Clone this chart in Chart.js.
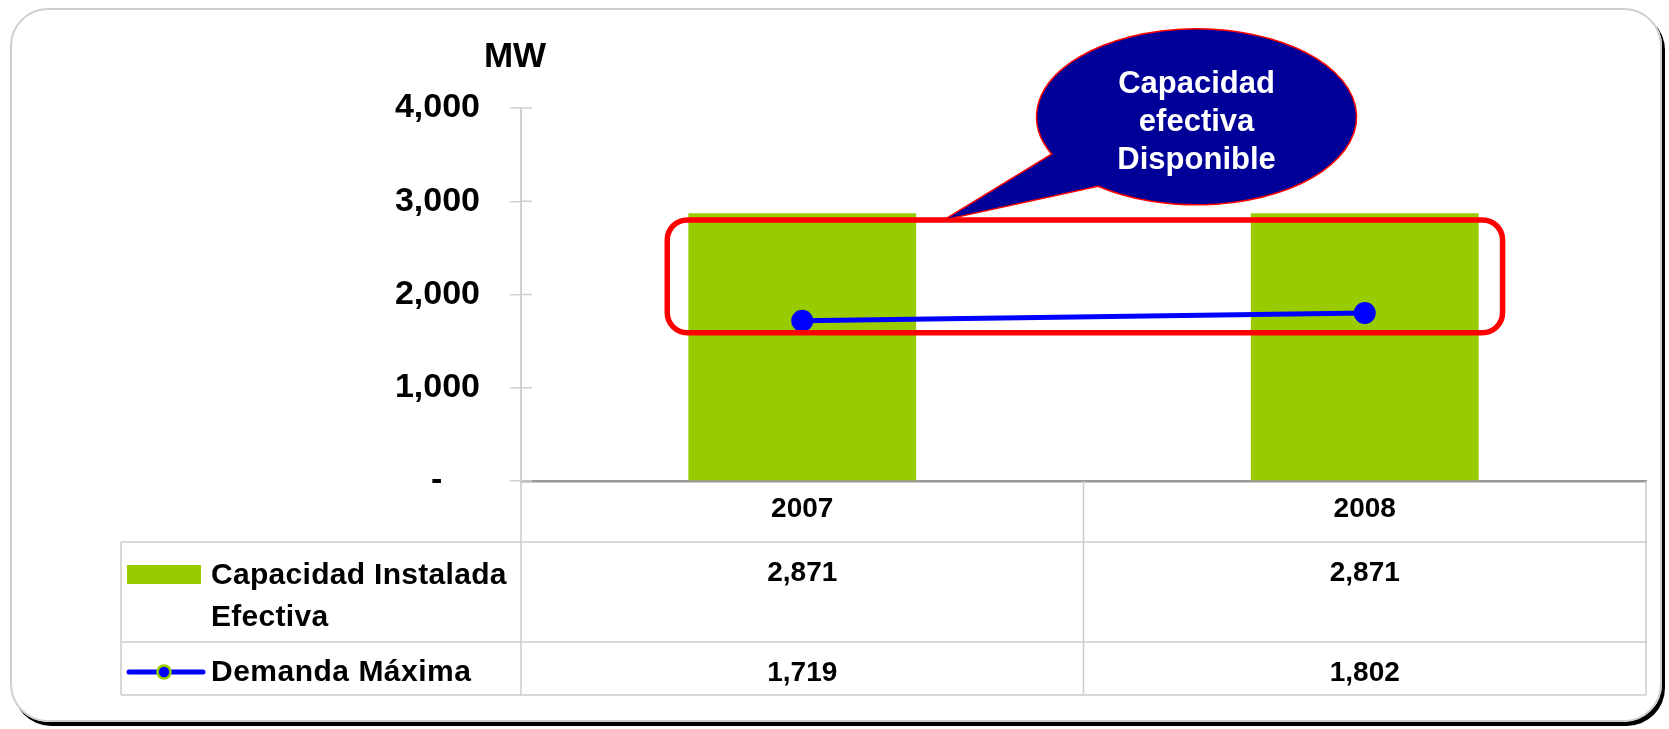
<!DOCTYPE html>
<html>
<head>
<meta charset="utf-8">
<script src="https://cdn.jsdelivr.net/npm/chart.js@4.4.1/dist/chart.umd.min.js"></script>
<style>
  body { margin: 0; background: #fff; }
  #wrap { position: relative; width: 1669px; height: 729px; }
  #frame {
    position: absolute; left: 10px; top: 8px; width: 1648px; height: 710px;
    border: 2px solid #cfcfcf; border-radius: 38px;
    box-shadow: 3px 4px 0 #000;
  }
  #chartBox { position: absolute; left: 0; top: 0; width: 1669px; height: 729px; }
</style>
</head>
<body>
<div id="wrap">
  <div id="frame"></div>
  <div id="chartBox"><canvas id="chart"></canvas></div>
</div>
<script>
// Data
const years = ["2007", "2008"];
const capacidad = [2871, 2871];
const demanda = [1719, 1802];
const seriesNames = ["Capacidad Instalada", "Efectiva", "Demanda Máxima"];
const yTicks = [0, 1000, 2000, 3000, 4000];
const calloutLines = ["Capacidad", "efectiva", "Disponible"];

const FONT = "'Liberation Sans', Arial, sans-serif";
const GREEN = "#99cc00";
const BLUE = "#0000ff";
const fmt = v => v.toLocaleString("en-US");

// Excel style data table under the axis, with legend keys
const tablePlugin = {
  id: "dataTable",
  afterDraw(chart) {
    const ctx = chart.ctx;
    const x = chart.scales.x;
    const area = chart.chartArea;
    const top = area.bottom;
    const rowA = top + 61, rowB = top + 161, rowC = top + 214;
    const tableLeft = 121;
    const bounds = [area.left, (x.getPixelForValue(0) + x.getPixelForValue(1)) / 2, area.right];

    ctx.save();
    ctx.strokeStyle = "#cccccc";
    ctx.lineWidth = 1.5;
    ctx.beginPath();
    [rowA, rowB, rowC].forEach(y => { ctx.moveTo(tableLeft, y); ctx.lineTo(area.right, y); });
    bounds.forEach(bx => { ctx.moveTo(bx, top); ctx.lineTo(bx, rowC); });
    ctx.moveTo(tableLeft, rowA); ctx.lineTo(tableLeft, rowC);
    ctx.stroke();

    // inner half of the y tick marks
    const y = chart.scales.y;
    ctx.strokeStyle = "#d0d0d0";
    ctx.lineWidth = 1.5;
    ctx.beginPath();
    yTicks.forEach(v => { const py = y.getPixelForValue(v); ctx.moveTo(area.left, py); ctx.lineTo(area.left + 11, py); });
    ctx.stroke();

    ctx.fillStyle = "#000";
    ctx.textAlign = "center";
    ctx.textBaseline = "alphabetic";
    ctx.font = "bold 28px " + FONT;
    years.forEach((yr, i) => {
      const cx = x.getPixelForValue(i);
      ctx.fillText(yr, cx, top + 36);
      ctx.fillText(fmt(capacidad[i]), cx, top + 100);
      ctx.fillText(fmt(demanda[i]), cx, top + 200);
    });

    // legend keys
    ctx.fillStyle = GREEN;
    ctx.fillRect(127, top + 84, 74, 19);
    ctx.strokeStyle = BLUE;
    ctx.lineWidth = 5;
    ctx.lineCap = "round";
    ctx.beginPath();
    ctx.moveTo(129, top + 191); ctx.lineTo(203, top + 191);
    ctx.stroke();
    ctx.beginPath();
    ctx.arc(164, top + 191, 6.5, 0, Math.PI * 2);
    ctx.fillStyle = BLUE; ctx.fill();
    ctx.strokeStyle = GREEN; ctx.lineWidth = 2.5; ctx.stroke();

    ctx.fillStyle = "#000";
    ctx.textAlign = "left";
    ctx.font = "bold 30px " + FONT;
    ctx.letterSpacing = "0.3px";
    ctx.fillText(seriesNames[0], 211, top + 103);
    ctx.fillText(seriesNames[1], 211, top + 145);
    ctx.letterSpacing = "0.5px";
    ctx.fillText(seriesNames[2], 211, top + 200);
    ctx.letterSpacing = "0px";

    // unit label
    ctx.textAlign = "center";
    ctx.font = "bold 35px " + FONT;
    ctx.fillText("MW", 515, 67);
    ctx.restore();
  }
};

// red frame and speech bubble
const calloutPlugin = {
  id: "callout",
  afterDatasetsDraw(chart) {
    const ctx = chart.ctx;
    const x = chart.scales.x, y = chart.scales.y;
    const l = x.getPixelForValue(-0.24), r = x.getPixelForValue(1.245);
    const t = y.getPixelForValue(2800), b = y.getPixelForValue(1590);
    ctx.save();
    ctx.strokeStyle = "#ff0000";
    ctx.lineWidth = 5.5;
    ctx.beginPath();
    ctx.roundRect(l, t, r - l, b - t, 20);
    ctx.stroke();

    const cx = x.getPixelForValue(0.701), cy = y.getPixelForValue(3905);
    const rx = 160, ry = 88;
    const a1 = 155 * Math.PI / 180, a2 = 128 * Math.PI / 180;
    const tipX = x.getPixelForValue(0.252);
    ctx.beginPath();
    ctx.moveTo(cx + rx * Math.cos(a1), cy + ry * Math.sin(a1));
    ctx.lineTo(tipX, t);
    ctx.lineTo(cx + rx * Math.cos(a2), cy + ry * Math.sin(a2));
    ctx.ellipse(cx, cy, rx, ry, 0, a2, a1, true);
    ctx.closePath();
    ctx.fillStyle = "#000099";
    ctx.fill();
    ctx.strokeStyle = "#ff0000";
    ctx.lineWidth = 1.5;
    ctx.stroke();

    ctx.fillStyle = "#fff";
    ctx.font = "bold 31px " + FONT;
    ctx.textAlign = "center";
    ctx.textBaseline = "alphabetic";
    calloutLines.forEach((s, i) => ctx.fillText(s, cx, 93 + i * 38));
    ctx.restore();
  }
};

const chart = new Chart(document.getElementById("chart"), {
  type: "bar",
  data: {
    labels: years,
    datasets: [
      {
        type: "line",
        label: seriesNames[2],
        data: demanda,
        borderColor: BLUE,
        backgroundColor: BLUE,
        borderWidth: 5,
        pointRadius: 11,
        pointBackgroundColor: BLUE,
        pointBorderColor: BLUE,
        pointBorderWidth: 0,
        order: 0
      },
      {
        label: seriesNames[0] + " " + seriesNames[1],
        data: capacidad,
        backgroundColor: GREEN,
        categoryPercentage: 1,
        barPercentage: 0.405,
        order: 1
      }
    ]
  },
  options: {
    responsive: true,
    maintainAspectRatio: false,
    animation: false,
    layout: { padding: { left: 0, right: 23, top: 108, bottom: 179 } },
    plugins: { legend: { display: false }, tooltip: { enabled: false } },
    scales: {
      x: {
        offset: true,
        grid: { display: false },
        border: { display: true, color: "#999999", width: 2.5 },
        ticks: { display: false },
        afterFit: s => { s.height = 69; }
      },
      y: {
        min: 0,
        max: 4000,
        afterBuildTicks: s => { s.ticks = yTicks.map(v => ({ value: v })); },
        grid: { drawOnChartArea: false, tickLength: 11, color: "#d0d0d0", lineWidth: 1.5 },
        border: { color: "#d0d0d0", width: 2 },
        ticks: {
          padding: 30,
          color: "#000",
          font: { family: FONT, size: 34, weight: "bold" },
          callback: v => v === 0 ? "-    " : fmt(v)
        },
        afterFit: s => { s.width = 521; }
      }
    }
  },
  plugins: [tablePlugin, calloutPlugin]
});
</script>
</body>
</html>
